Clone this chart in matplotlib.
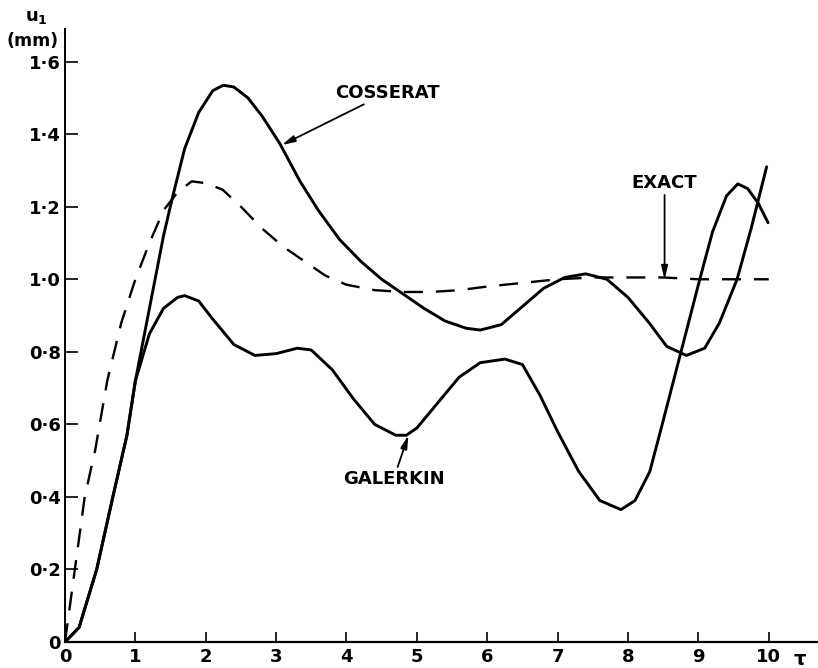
import numpy as np
import matplotlib
matplotlib.use('Agg')
import matplotlib.pyplot as plt

# values
cos_t = [0, 0.2, 0.45, 0.68, 0.88, 1.0, 1.2, 1.4, 1.52, 1.7, 1.9, 2.1, 2.25, 2.4, 2.6, 2.8,
         3.05, 3.34, 3.6, 3.9, 4.2, 4.5, 4.8, 5.1, 5.4, 5.7, 5.9, 6.2, 6.5, 6.8, 7.1, 7.4,
         7.7, 8.0, 8.3, 8.55, 8.83, 9.09, 9.3, 9.55, 9.75, 9.97]
cos_u = [0, 0.04, 0.2, 0.4, 0.57, 0.72, 0.92, 1.12, 1.22, 1.36, 1.46, 1.52, 1.535, 1.53, 1.5, 1.45,
         1.375, 1.27, 1.19, 1.11, 1.05, 1.0, 0.96, 0.92, 0.885, 0.865, 0.86, 0.875, 0.925, 0.975, 1.005, 1.015,
         1.0, 0.95, 0.88, 0.815, 0.79, 0.81, 0.88, 1.0, 1.14, 1.31]

gal_t = [0, 0.2, 0.45, 0.68, 0.88, 1.0, 1.2, 1.4, 1.6, 1.7, 1.9, 2.1, 2.4, 2.7, 3.0, 3.3, 3.5,
         3.8, 4.1, 4.4, 4.7, 4.85, 5.0, 5.3, 5.6, 5.9, 6.25, 6.5, 6.75, 7.0, 7.3, 7.6, 7.9, 8.1,
         8.31, 8.5, 8.74, 9.02, 9.2, 9.4, 9.56, 9.7, 9.85, 9.99]
gal_u = [0, 0.04, 0.2, 0.4, 0.57, 0.72, 0.85, 0.92, 0.95, 0.955, 0.94, 0.89, 0.82, 0.79, 0.795, 0.81, 0.805,
         0.75, 0.67, 0.6, 0.57, 0.57, 0.59, 0.66, 0.73, 0.77, 0.78, 0.765, 0.68, 0.58, 0.47, 0.39, 0.365, 0.39,
         0.47, 0.61, 0.79, 1.0, 1.13, 1.23, 1.263, 1.25, 1.21, 1.156]

ex_t = [0, 0.14, 0.28, 0.43, 0.6, 0.8, 1.0, 1.2, 1.4, 1.6, 1.8, 2.0, 2.24, 2.5, 2.8, 3.1, 3.4,
        3.7, 4.0, 4.4, 4.8, 5.2, 5.6, 6.0, 6.5, 7.0, 7.5, 8.0, 8.5, 9.0, 10.0]
ex_u = [0, 0.2, 0.4, 0.53, 0.72, 0.88, 1.0, 1.1, 1.19, 1.24, 1.27, 1.265, 1.247, 1.2, 1.14, 1.09, 1.05,
        1.01, 0.985, 0.97, 0.965, 0.965, 0.97, 0.98, 0.99, 1.0, 1.005, 1.005, 1.005, 1.0, 1.0]

xticks = [0, 1, 2, 3, 4, 5, 6, 7, 8, 9, 10]
yticks = [0, 0.2, 0.4, 0.6, 0.8, 1.0, 1.2, 1.4, 1.6]
ylabels = ['0', '0\u00b72', '0\u00b74', '0\u00b76', '0\u00b78', '1\u00b70', '1\u00b72', '1\u00b74', '1\u00b76']

plt.rcParams['font.family'] = ['DejaVu Sans']
plt.rcParams['font.weight'] = 'bold'

fig = plt.figure(figsize=(8.18, 6.68), dpi=100)
ax = fig.add_axes([65 / 818, 26 / 668, 753 / 818, 613 / 668])

ax.plot(ex_t, ex_u, color='black', lw=1.7, dashes=(8, 5.5))
ax.plot(cos_t, cos_u, color='black', lw=2.1, solid_capstyle='round')
ax.plot(gal_t, gal_u, color='black', lw=2.1, solid_capstyle='round')

ax.set_xlim(0, 10.7)
ax.set_ylim(0, 1.69)
ax.spines['top'].set_visible(False)
ax.spines['right'].set_visible(False)
ax.spines['left'].set_linewidth(1.4)
ax.spines['bottom'].set_linewidth(1.6)

ax.set_xticks(xticks)
ax.set_xticklabels([str(t) for t in xticks])
ax.set_yticks(yticks)
ax.set_yticklabels(ylabels)
ax.tick_params(axis='x', direction='in', length=7, width=1.2, labelsize=13, pad=4)
ax.tick_params(axis='y', direction='in', length=9, width=1.2, labelsize=13, pad=3)

ax.text(10.44, -0.022, '\u03c4', fontsize=14, ha='center', va='top')
fig.text(36 / 818, 1 - 17 / 668, 'u$_\\mathbf{1}$', fontsize=13, ha='center', va='center')
fig.text(33 / 818, 1 - 41 / 668, '(mm)', fontsize=12.5, ha='center', va='center')

arrow = dict(arrowstyle='-|>,head_length=0.6,head_width=0.15', color='black', lw=1.3,
             shrinkA=0, shrinkB=0)
ax.annotate('COSSERAT', xy=(3.08, 1.37), xytext=(3.84, 1.49), fontsize=13,
            ha='left', va='bottom', arrowprops=arrow)
ax.annotate('EXACT', xy=(8.52, 1.0), xytext=(8.52, 1.24), fontsize=13,
            ha='center', va='bottom', arrowprops=arrow)
ax.annotate('GALERKIN', xy=(4.88, 0.57), xytext=(4.67, 0.475), fontsize=13,
            ha='center', va='top', arrowprops=arrow)

fig.savefig('out.png', dpi=100)
